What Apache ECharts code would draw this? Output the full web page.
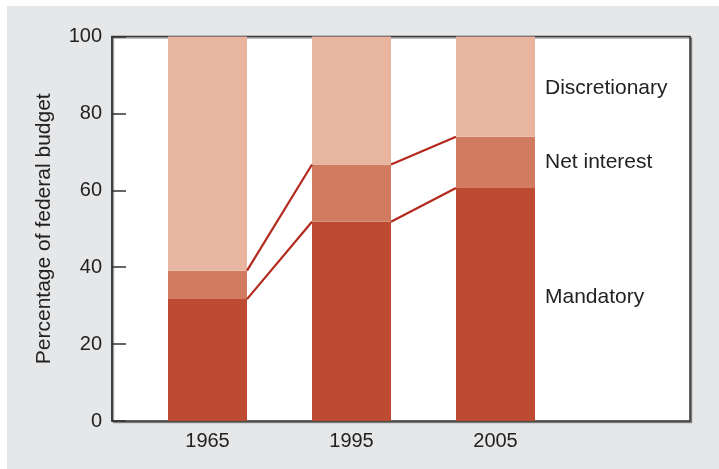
<!DOCTYPE html>
<html>
<head>
<meta charset="utf-8">
<script src="https://cdn.jsdelivr.net/npm/echarts@6/dist/echarts.min.js"></script>
<style>
html,body{margin:0;padding:0;background:#fff;width:719px;height:469px;overflow:hidden;}
#chart{position:absolute;left:7px;top:6px;width:712px;height:463px;}
</style>
</head>
<body>
<div id="chart"></div>
<script>
const years = ['1965', '1995', '2005'];
const mandatory = [31.7, 51.8, 60.6];
const netInterest = [7.4, 14.9, 13.3];
const discretionary = [60.9, 33.3, 26.1];
const seriesNames = ['Mandatory', 'Net interest', 'Discretionary'];
const yTicks = [0, 20, 40, 60, 80, 100];

const FONT = "'Liberation Sans', Arial, Helvetica, sans-serif";
const colors = ['#bd4b32', '#d17c60', '#e8b5a1'];
const BAR_W = 79;

const chart = echarts.init(document.getElementById('chart'));

const last = years.length - 1;
function withLabel(arr, name, offsetY) {
  return arr.map((v, i) => i === last ? {
    value: v,
    label: {
      show: true, position: 'right', distance: 10, formatter: name,
      fontFamily: FONT, fontSize: 21, color: '#222', offset: [0, offsetY]
    }
  } : v);
}

// cumulative tops for connectors
const cumMand = mandatory.slice();
const cumNI = mandatory.map((v, i) => v + netInterest[i]);
const connectors = [];
[cumMand, cumNI].forEach(arr => {
  for (let i = 0; i < arr.length - 1; i++) connectors.push([i, arr[i], i + 1, arr[i + 1]]);
});

const option = {
  backgroundColor: '#e6e7e9',
  animation: false,
  grid: [
    { left: 105, right: 29, top: 30.5, bottom: 48, show: true, backgroundColor: '#fff',
      borderColor: '#333', borderWidth: 1.5,
      shadowColor: 'rgba(0,0,0,0.35)', shadowOffsetX: 1.5, shadowOffsetY: 1.5, shadowBlur: 0 },
    { left: 128.5, width: 432, top: 30.5, bottom: 48 }
  ],
  xAxis: [
    { gridIndex: 0, type: 'value', show: false, min: 0, max: 1 },
    { gridIndex: 1, type: 'category', data: years,
      axisLine: { show: false }, axisTick: { show: false },
      axisLabel: { fontFamily: FONT, fontSize: 20, color: '#222', margin: 10 } }
  ],
  yAxis: [
    { gridIndex: 0, type: 'value', min: 0, max: 100, interval: 20,
      name: 'Percentage of federal budget', nameLocation: 'middle', nameGap: 57,
      nameTextStyle: { fontFamily: FONT, fontSize: 21, color: '#222' },
      axisLine: { show: true, lineStyle: { color: '#333', width: 1.5 } },
      axisTick: { show: true, inside: true, length: 14, lineStyle: { color: '#333', width: 1.5 } },
      axisLabel: { fontFamily: FONT, fontSize: 20, color: '#222', margin: 10,
        formatter: v => yTicks.includes(v) ? String(v) : '' },
      splitLine: { show: false } },
    { gridIndex: 1, type: 'value', min: 0, max: 100, show: false }
  ],
  series: [
    { name: seriesNames[0], type: 'bar', stack: 'b', xAxisIndex: 1, yAxisIndex: 1, barWidth: BAR_W,
      itemStyle: { color: colors[0] }, data: withLabel(mandatory, seriesNames[0], -7) },
    { name: seriesNames[1], type: 'bar', stack: 'b', xAxisIndex: 1, yAxisIndex: 1, barWidth: BAR_W,
      itemStyle: { color: colors[1] }, data: withLabel(netInterest, seriesNames[1], 0) },
    { name: seriesNames[2], type: 'bar', stack: 'b', xAxisIndex: 1, yAxisIndex: 1, barWidth: BAR_W,
      itemStyle: { color: colors[2] }, data: withLabel(discretionary, seriesNames[2], 2) },
    { type: 'custom', xAxisIndex: 1, yAxisIndex: 1, z: 5, data: connectors,
      renderItem: (params, api) => {
        const p0 = api.coord([api.value(0), api.value(1)]);
        const p1 = api.coord([api.value(2), api.value(3)]);
        return { type: 'line',
          shape: { x1: p0[0] + BAR_W / 2, y1: p0[1], x2: p1[0] - BAR_W / 2, y2: p1[1] },
          style: { stroke: '#b3291d', lineWidth: 2.2 } };
      } }
  ]
};
chart.setOption(option);
</script>
</body>
</html>
